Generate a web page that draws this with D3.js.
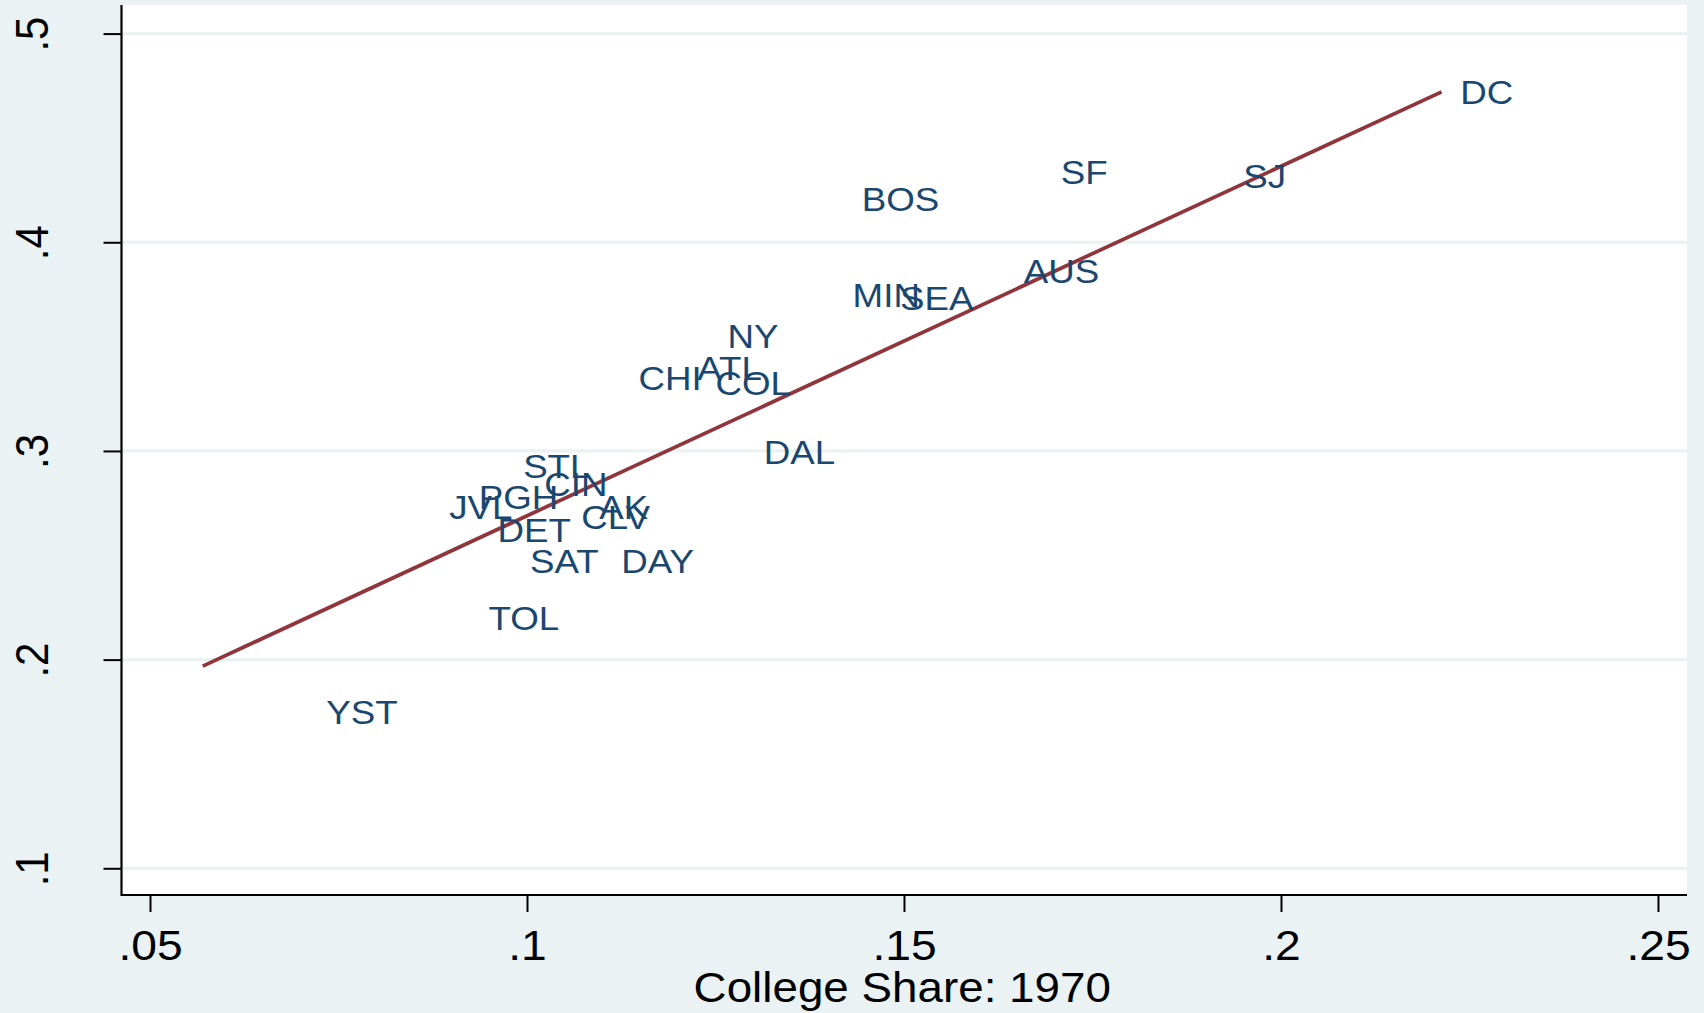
<!DOCTYPE html>
<html>
<head>
<meta charset="utf-8">
<script src="https://cdn.jsdelivr.net/npm/d3@7"></script>
<style>
  html, body { margin: 0; padding: 0; background: #eaf2f3; }
  svg { display: block; }
  text { font-family: "Liberation Sans", Arial, Helvetica, sans-serif; }
</style>
</head>
<body>
<script>
// ---- Data ----
const cities = ["DC","SF","SJ","BOS","AUS","MIN","SEA","NY","ATL","CHI","COL","DAL",
                "STL","CIN","PGH","JVL","AK","CLV","DET","SAT","DAY","TOL","YST"];
const collegeShare1970 = [0.2214,0.1684,0.1926,0.1420,0.1635,0.1408,0.1471,0.1242,0.1202,0.1124,0.1226,0.1290,
                          0.0971,0.0999,0.0912,0.0873,0.1072,0.1048,0.0937,0.0980,0.1101,0.0925,0.0710];
const outcomeShare = [0.4722,0.4339,0.4318,0.4209,0.3862,0.3750,0.3735,0.3553,0.3398,0.3349,0.3328,0.2995,
                      0.2931,0.2843,0.2779,0.2732,0.2732,0.2682,0.2620,0.2472,0.2472,0.2201,0.1750];
const fitLineX = [0.0570, 0.2213];
const fitLineY = [0.1969, 0.4721];
const xTicks = [0.05, 0.10, 0.15, 0.20, 0.25];
const xTickLabels = [".05", ".1", ".15", ".2", ".25"];
const yTicks = [0.1, 0.2, 0.3, 0.4, 0.5];
const yTickLabels = [".1", ".2", ".3", ".4", ".5"];
const xTitle = "College Share: 1970";

// ---- Layout ----
const W = 1704, H = 1013;
const plot = { left: 121.5, right: 1687, top: 5, bottom: 895 };
const SX = 1.1; // horizontal stretch of text seen in the reference
const navy = "#1a476f", maroon = "#90353b", bg = "#eaf2f3";

const svg = d3.select("body").append("svg").attr("width", W).attr("height", H);
svg.append("rect").attr("width", W).attr("height", H).attr("fill", bg);
svg.append("rect")
  .attr("x", plot.left).attr("y", plot.top)
  .attr("width", plot.right - plot.left).attr("height", plot.bottom - plot.top)
  .attr("fill", "#ffffff");

const x = d3.scaleLinear().domain([0.04622, 0.25385]).range([plot.left, plot.right]);
const y = d3.scaleLinear().domain([0.0872, 0.5137]).range([plot.bottom, plot.top]);

// gridlines
svg.append("g").selectAll("line").data(yTicks).join("line")
  .attr("x1", plot.left).attr("x2", plot.right)
  .attr("y1", d => y(d)).attr("y2", d => y(d))
  .attr("stroke", bg).attr("stroke-width", 3.2);

// fit line
const fitData = fitLineX.map((v, i) => [v, fitLineY[i]]);
svg.append("path")
  .datum(fitData)
  .attr("d", d3.line().x(d => x(d[0])).y(d => y(d[1])))
  .attr("fill", "none").attr("stroke", maroon).attr("stroke-width", 3.7);

// marker labels (position 3 o'clock, no markers)
const labelSize = 34;
const pts = cities.map((c, i) => ({ c, vx: collegeShare1970[i], vy: outcomeShare[i] }));
svg.append("g").selectAll("text").data(pts).join("text")
  .attr("transform", d => `translate(${x(d.vx) + 18},${y(d.vy) + labelSize * 0.716 / 2}) scale(1.08,1)`)
  .attr("fill", navy).attr("font-size", labelSize)
  .text(d => d.c);

// x axis
const xAxis = d3.axisBottom(x).tickValues(xTicks)
  .tickFormat((d, i) => xTickLabels[i]).tickSize(17).tickSizeOuter(0);
const gx = svg.append("g").attr("transform", `translate(0,${plot.bottom})`).call(xAxis);
gx.select(".domain").attr("stroke", "#000").attr("stroke-width", 2.2)
  .attr("d", `M${plot.left},0H${plot.right}`);
gx.selectAll(".tick line").attr("stroke", "#000").attr("stroke-width", 2);
gx.selectAll(".tick text")
  .attr("y", 0).attr("dy", 0)
  .attr("transform", `translate(0,65) scale(${SX},1)`)
  .attr("font-size", 42).attr("fill", "#000")
  .attr("font-family", "'Liberation Sans', Arial, sans-serif");

// y axis
const yAxis = d3.axisLeft(y).tickValues(yTicks)
  .tickFormat((d, i) => yTickLabels[i]).tickSize(18).tickSizeOuter(0);
const gy = svg.append("g").attr("transform", `translate(${plot.left},0)`).call(yAxis);
gy.select(".domain").attr("stroke", "#000").attr("stroke-width", 2.2)
  .attr("d", `M0,${plot.top}V${plot.bottom + 1}`);
gy.selectAll(".tick line").attr("stroke", "#000").attr("stroke-width", 2);
gy.selectAll(".tick text")
  .attr("x", 0).attr("y", 0).attr("dy", 0)
  .attr("text-anchor", "middle")
  .attr("transform", `translate(-73.5,0) scale(${SX},1) rotate(-90)`)
  .attr("font-size", 42).attr("fill", "#000")
  .attr("font-family", "'Liberation Sans', Arial, sans-serif");

// x title
svg.append("text")
  .attr("transform", `translate(${(plot.left + plot.right) / 2 - 2},1001.7) scale(1.09,1)`)
  .attr("text-anchor", "middle").attr("font-size", 42).attr("fill", "#000")
  .text(xTitle);
</script>
</body>
</html>
